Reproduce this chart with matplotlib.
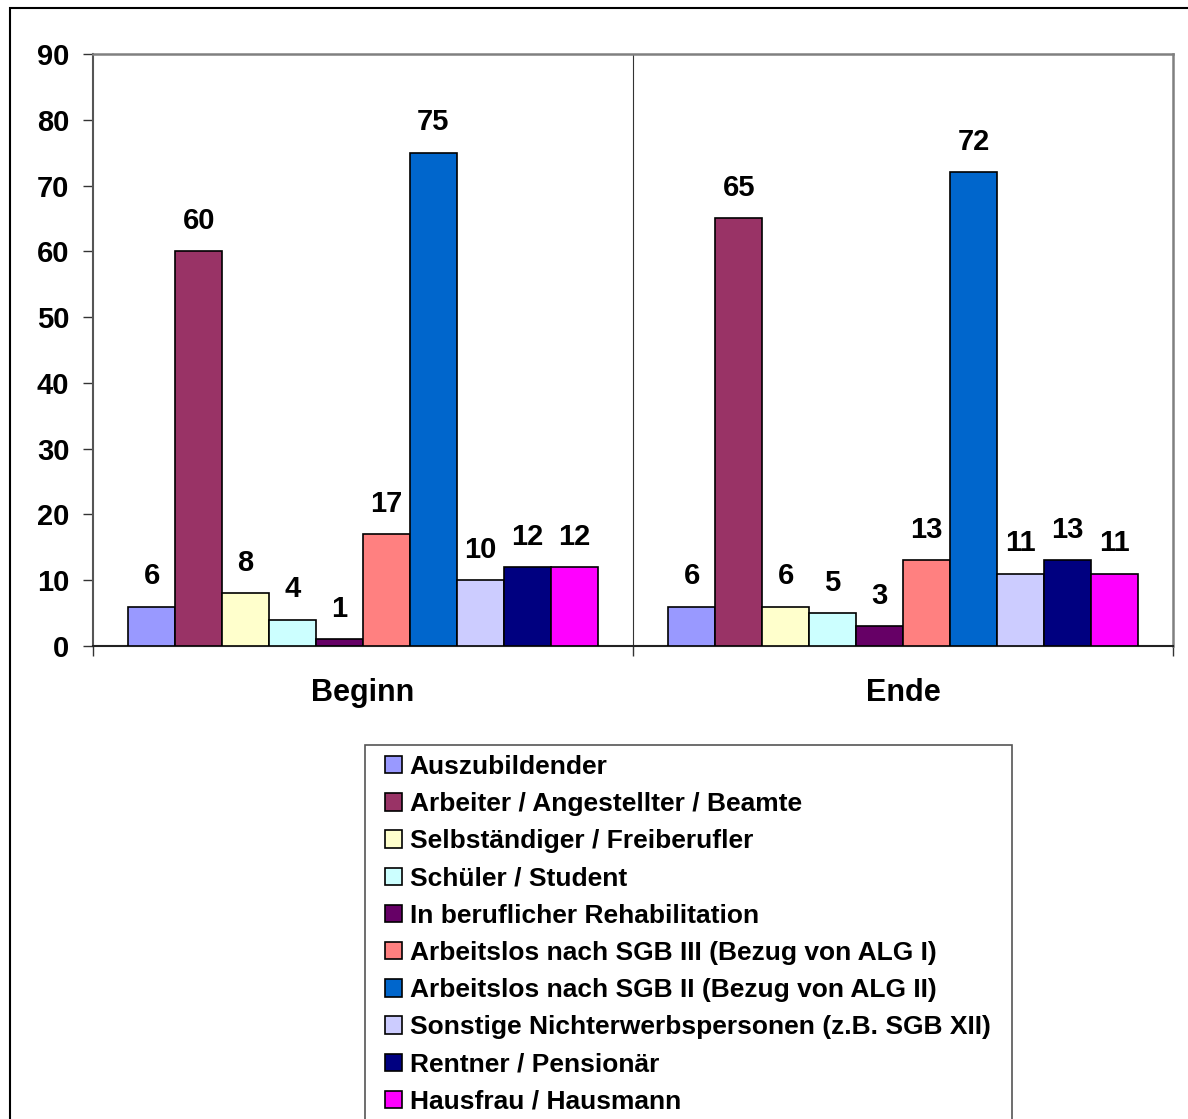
import matplotlib.pyplot as plt
from matplotlib.patches import Rectangle, Patch
import numpy as np

plt.rcParams['font.family'] = ['Liberation Sans', 'DejaVu Sans']
plt.rcParams['font.weight'] = 'bold'

groups = ['Beginn', 'Ende']
labels = ['Auszubildender',
          'Arbeiter / Angestellter / Beamte',
          'Selbständiger / Freiberufler',
          'Schüler / Student',
          'In beruflicher Rehabilitation',
          'Arbeitslos nach SGB III (Bezug von ALG I)',
          'Arbeitslos nach SGB II (Bezug von ALG II)',
          'Sonstige Nichterwerbspersonen (z.B. SGB XII)',
          'Rentner / Pensionär',
          'Hausfrau / Hausmann']
beginn = [6, 60, 8, 4, 1, 17, 75, 10, 12, 12]
ende = [6, 65, 6, 5, 3, 13, 72, 11, 13, 11]
colors = ['#9999FF', '#993366', '#FFFFCC', '#CCFFFF', '#660066',
          '#FF8080', '#0066CC', '#CCCCFF', '#000080', '#FF00FF']

W, H = 1188, 1119
fig = plt.figure(figsize=(W / 100, H / 100), dpi=100)

# outer chart frame (runs off the right and bottom edges)
fig.patches.append(Rectangle((10 / W, -0.2), 1.2, 1 - 8 / H + 0.2,
                             transform=fig.transFigure, fill=False,
                             edgecolor='black', lw=1.5))

ax = fig.add_axes([93 / W, 1 - 646 / H, (1173 - 93) / W, (646 - 54) / H])

n = len(labels)
w = 1 / (n + 1.5)  # excel gap width 150%
x = np.arange(len(groups))
data = np.array([beginn, ende])
for i in range(n):
    xs = x - (n / 2) * w + (i + 0.5) * w
    vals = data[:, i]
    ax.bar(xs, vals, width=w, color=colors[i], edgecolor='black',
           linewidth=1.2, zorder=3)
    for xx, v in zip(xs, vals):
        ax.annotate(str(v), (xx, v), xytext=(0, 16), textcoords='offset points',
                    ha='center', va='baseline', fontsize=21, fontweight='bold')

ax.axvline(0.5, color='#333333', lw=0.8, zorder=1)

ax.set_xlim(-0.5, 1.5)
ax.set_ylim(0, 90)
ax.set_yticks(range(0, 91, 10))
ax.set_xticks(x)
ax.set_xticklabels(groups, fontsize=22, fontweight='bold')
ax.set_xticks([-0.5, 0.5, 1.5], minor=True)
ax.tick_params(axis='x', which='major', length=0, pad=23)
ax.tick_params(axis='x', which='minor', length=7, width=1, color='#333333')
ax.tick_params(axis='y', length=7, width=1, pad=10, labelsize=21, color='#333333')
for t in ax.get_yticklabels():
    t.set_fontweight('bold')

for s in ['top', 'right']:
    ax.spines[s].set_color('#808080')
    ax.spines[s].set_linewidth(1.8)
ax.spines['left'].set_color('#555555')
ax.spines['left'].set_linewidth(1.5)
ax.spines['bottom'].set_color('#222222')
ax.spines['bottom'].set_linewidth(1.5)

# legend box drawn separately so it can run past the bottom edge
fig.patches.append(Rectangle((365 / W, -0.1), (1012 - 365) / W, 1 - 745 / H + 0.1,
                             transform=fig.transFigure, fill=False,
                             edgecolor='#555555', lw=1.2))
handles = [Patch(facecolor=c, edgecolor='black', linewidth=1.2) for c in colors]
leg = fig.legend(handles, labels, loc='upper left',
                 bbox_to_anchor=(385 / W, 1 - 755 / H), fontsize=19,
                 frameon=False, handlelength=0.64, handleheight=0.64,
                 handletextpad=0.3, labelspacing=0.5,
                 borderpad=0, borderaxespad=0)
for t in leg.get_texts():
    t.set_fontweight('bold')

fig.savefig('out.png', dpi=100)
